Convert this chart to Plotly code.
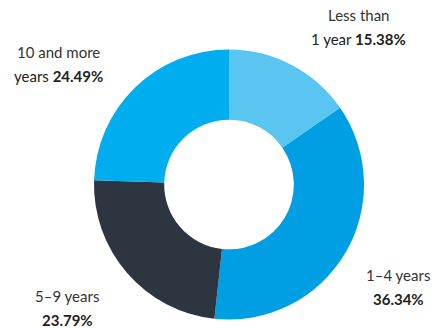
import plotly.graph_objects as go

categories = ["Less than 1 year", "1–4 years", "5–9 years", "10 and more years"]
values = [15.38, 36.34, 23.79, 24.49]
colors = ["#5BC5F2", "#009FE3", "#2D3540", "#00AEEF"]

# label lines: (first line, second-line prefix, bold value)
label_line1 = ["Less than", "1–4 years", "5–9 years", "10 and more"]
label_line2 = ["1 year ", "", "", "years "]
label_pct = ["15.38%", "36.34%", "23.79%", "24.49%"]
label_x = [358, 398, 67, 58]      # pixel centre x
label_y1 = [15, 275, 296, 52]     # pixel y of first line
W, H = 438, 328

fig = go.Figure()
fig.add_trace(go.Pie(
    labels=categories, values=values, hole=0.48, sort=False,
    direction="clockwise", rotation=0,
    marker=dict(colors=colors, line=dict(width=0)),
    textinfo="none", hoverinfo="label+percent",
    domain=dict(x=[94 / W, 364 / W], y=[(328 - 319.5) / H, (328 - 49.5) / H]),
    showlegend=False,
))

anns = []
for i in range(len(categories)):
    anns.append(dict(x=label_x[i] / W, y=1 - label_y1[i] / H, xref="paper", yref="paper",
                     text=label_line1[i], showarrow=False, xanchor="center", yanchor="middle",
                     font=dict(size=15, color="#333333", family="Lato")))
    anns.append(dict(x=label_x[i] / W, y=1 - (label_y1[i] + 24) / H, xref="paper", yref="paper",
                     text=label_line2[i] + "<b>" + label_pct[i] + "</b>", showarrow=False,
                     xanchor="center", yanchor="middle",
                     font=dict(size=15, color="#222222", family="Lato")))

fig.update_layout(width=W, height=H, margin=dict(l=0, r=0, t=0, b=0),
                  paper_bgcolor="white", plot_bgcolor="white", annotations=anns)
fig.write_html("out.html")
